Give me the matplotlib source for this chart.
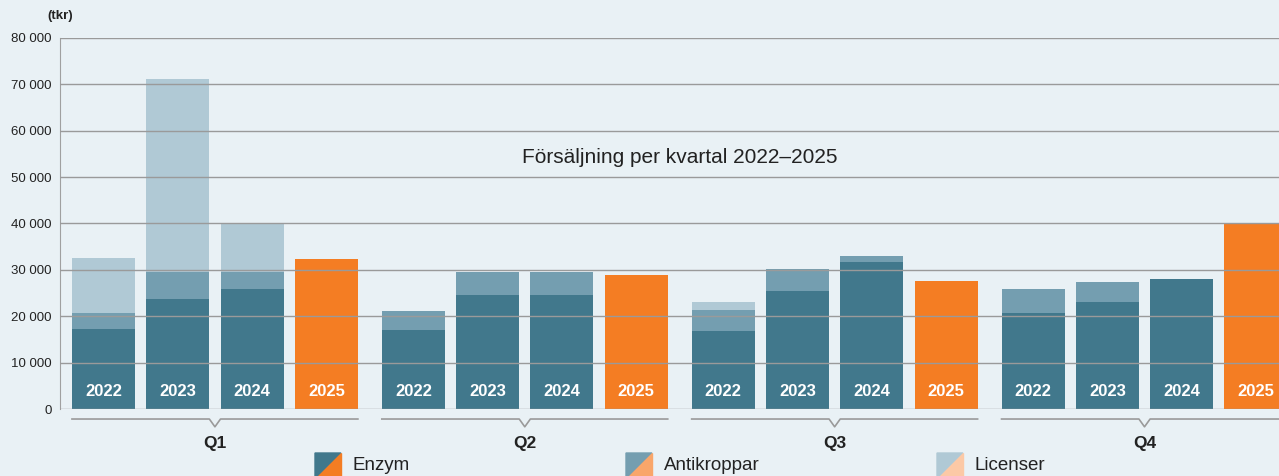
import numpy as np
import matplotlib.pyplot as plt
from matplotlib.patches import Polygon

plt.rcParams['font.family'] = ['Liberation Sans', 'DejaVu Sans']

# Data (tkr)
quarters = ['Q1', 'Q2', 'Q3', 'Q4']
years = ['2022', '2023', '2024', '2025']

# rows = quarter, cols = year 2022..2024
enzym = np.array([
    [17250, 23700, 25900],
    [17000, 24600, 24600],
    [16800, 25450, 31700],
    [20700, 23100, 28000],
])
antikroppar = np.array([
    [3450, 5900, 3700],
    [4100, 4950, 4950],
    [4550, 4750, 1300],
    [5200, 4300, 0],
])
licenser = np.array([
    [11850, 41550, 10500],
    [0, 0, 0],
    [1700, 0, 0],
    [0, 0, 0],
])
total_2025 = [32300, 28900, 27600, 40000]

c_enzym = '#41788c'
c_anti = '#749eb0'
c_lic = '#b0c9d5'
c_orange = '#f47d23'
c_orange2 = '#f9a66a'
c_orange3 = '#fcc9a6'
bg = '#e9f1f5'
grid_c = '#9a9a9a'
txt_c = '#222222'

fig = plt.figure(figsize=(12.79, 4.76), dpi=100, facecolor=bg)
ax = fig.add_axes([60 / 1279, 67 / 476, 1 - 60 / 1279, 371 / 476])
ax.set_facecolor(bg)

group_step = 4.17
width = 0.848

for g in range(len(quarters)):
    x = g * group_step + np.arange(3)
    ax.bar(x, enzym[g], width, color=c_enzym, zorder=2)
    ax.bar(x, antikroppar[g], width, bottom=enzym[g], color=c_anti, zorder=2)
    ax.bar(x, licenser[g], width, bottom=enzym[g] + antikroppar[g], color=c_lic, zorder=2)
    x25 = g * group_step + 3
    ax.bar(x25, total_2025[g], width, color=c_orange, zorder=2)
    for i, yr in enumerate(years):
        ax.text(g * group_step + i, 3700, yr, color='white', fontsize=12,
                fontweight='bold', ha='center', va='center', zorder=4)

    # bracket with notch under each quarter
    left = g * group_step - width / 2
    right = g * group_step + 3 + width / 2
    mid = (left + right) / 2
    trans = ax.get_xaxis_transform()
    ax.plot([left, mid - 0.075, mid, mid + 0.075, right],
            [-0.027, -0.027, -0.048, -0.027, -0.027],
            color=grid_c, lw=1.2, transform=trans, clip_on=False)
    ax.text(mid, -0.093, quarters[g], transform=trans, ha='center', va='center',
            fontsize=12.5, fontweight='bold', color=txt_c)

ax.set_xlim(-0.585, 15.82)
ax.set_ylim(0, 80000)
ax.set_yticks(np.arange(0, 80001, 10000))
ax.set_yticklabels([f'{v:,}'.replace(',', ' ') for v in range(0, 80001, 10000)])
ax.tick_params(axis='y', length=0, pad=6, labelsize=9.5, labelcolor=txt_c)
ax.tick_params(axis='x', bottom=False, labelbottom=False)
ax.grid(axis='y', color=grid_c, lw=1, zorder=3)
ax.set_axisbelow(False)
for s in ['top', 'right', 'bottom']:
    ax.spines[s].set_visible(False)
ax.spines['left'].set_color('#a0a0a0')
ax.spines['left'].set_zorder(1)

ax.text(0.5086, 0.679, 'Försäljning per kvartal 2022–2025', transform=ax.transAxes,
        ha='center', va='center', fontsize=15, color=txt_c)

fig.text(60 / 1279, 1 - 16 / 476, '(tkr)', ha='center', va='center',
         fontsize=9.5, fontweight='bold', color=txt_c)

# legend with split swatches
labels = ['Enzym', 'Antikroppar', 'Licenser']
top_cols = [c_enzym, c_anti, c_lic]
bot_cols = [c_orange, c_orange2, c_orange3]
W, H = 1279, 476
for k, lab in enumerate(labels):
    x0 = 315 + k * 311
    x1 = x0 + 26
    y0 = 453
    y1 = 479
    pts = lambda p: [(a / W, 1 - b / H) for a, b in p]
    fig.patches.append(Polygon(pts([(x0, y0), (x1, y0), (x0, y1)]),
                               closed=True, color=top_cols[k], transform=fig.transFigure))
    fig.patches.append(Polygon(pts([(x1, y0), (x1, y1), (x0, y1)]),
                               closed=True, color=bot_cols[k], transform=fig.transFigure))
    fig.text((x1 + 12) / W, 1 - 466 / H, lab, ha='left', va='center',
             fontsize=13.5, color=txt_c)

fig.savefig('out.png', dpi=100, facecolor=bg)
